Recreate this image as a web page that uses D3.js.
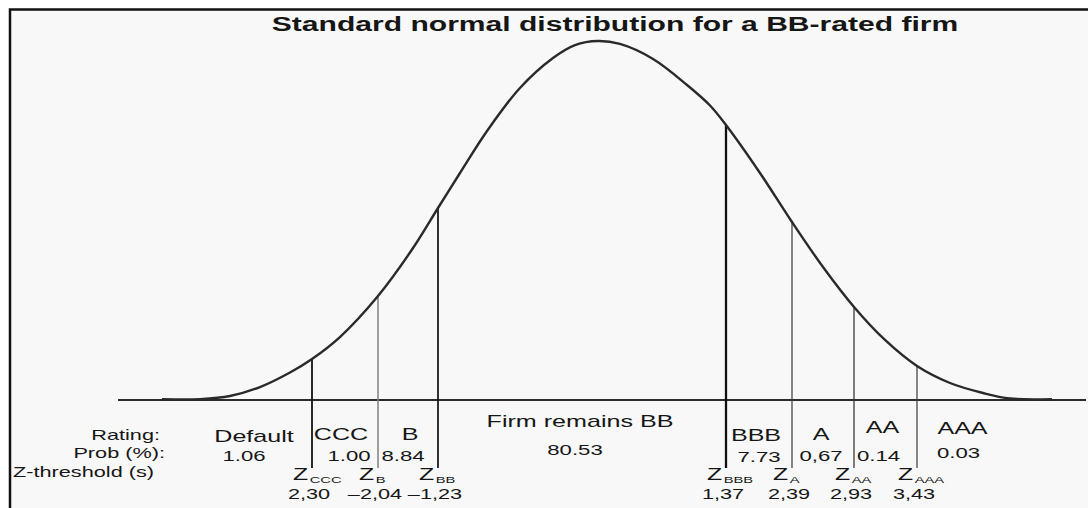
<!DOCTYPE html>
<html><head><meta charset="utf-8">
<script src="https://cdn.jsdelivr.net/npm/d3@7"></script>
<style>
body{margin:0;background:#fff}
text{font-family:"Liberation Sans",Arial,Helvetica,sans-serif;fill:#161616}
</style>
</head><body>
<svg id="chart" width="1088" height="508"></svg>
<script>
// ---------- data ----------
const title = "Standard normal distribution for a BB-rated firm";
const rowLabels = ["Rating:", "Prob (%):", "Z-threshold (s)"];
const ratings = ["Default", "CCC", "B", "Firm remains BB", "BBB", "A", "AA", "AAA"];
const probs = ["1.06", "1.00", "8.84", "80.53", "7.73", "0,67", "0.14", "0.03"];
const thresholdNames = ["CCC", "B", "BB", "BBB", "A", "AA", "AAA"];
const thresholdZ = [-2.30, -2.04, -1.23, 1.37, 2.39, 2.93, 3.43];
const thresholdLabels = ["2,30", "\u20132,04", "\u20131,23", "1,37", "2,39", "2,93", "3,43"];
// bell curve (z, density)
const curveZ = [-3.80, -3.42, -3.12, -2.82, -2.52, -2.30, -2.19, -2.04, -1.567, -1.23, -1.061, -0.853,
  -0.600, -0.346, -0.177, 0, 0.235, 0.589, 0.953, 1.199, 1.37, 1.895, 2.39, 2.660, 2.93, 3.176, 3.43,
  3.716, 4.002, 4.235, 4.6];
const curveDensity = [0.001, 0.001, 0.0044, 0.0144, 0.0306, 0.0456, 0.0700, 0.1156, 0.1689, 0.2134, 0.2523, 0.2990,
  0.3468, 0.3801, 0.3945, 0.399, 0.3957, 0.3790, 0.3501, 0.3273, 0.3056, 0.2523, 0.1978, 0.1478, 0.1034, 0.0667, 0.0378,
  0.0189, 0.0078, 0.0017, 0.001];

// ---------- layout ----------
const SX = 1.55; // horizontal stretch of the lettering in the original
const xAnchorsPx = [162, 312, 378, 438, 598, 726, 792, 854, 917, 1052]; // schematic (not-to-scale) axis
const baseY = 400, peakY = 41, lineBottom = 468;
const lineStyle = {
  CCC: {w: 1.8, c: "#151515"}, B: {w: 1.5, c: "#808080"}, BB: {w: 1.8, c: "#1a1a1a"},
  BBB: {w: 2.3, c: "#111"}, A: {w: 1.2, c: "#3a3a3a"}, AA: {w: 1.2, c: "#2a2a2a"}, AAA: {w: 1.2, c: "#3a3a3a"}
};
const ratingPos = { // dx from band centre, baseline y
  "Default": {dx: 0, y: 442}, "CCC": {dx: -4, y: 440}, "B": {dx: 2, y: 440},
  "Firm remains BB": {dx: -2, y: 427}, "BBB": {dx: -3, y: 441}, "A": {dx: -2, y: 440},
  "AA": {dx: -3, y: 433}, "AAA": {dx: 0, y: 434}
};
const probPos = {
  "1.06": {dx: -10, y: 461}, "1.00": {dx: 4, y: 461}, "8.84": {dx: -5, y: 461}, "80.53": {dx: -7, y: 455},
  "7.73": {dx: 0, y: 462}, "0,67": {dx: -2, y: 461}, "0.14": {dx: -7, y: 461}, "0.03": {dx: -4, y: 458}
};

const svg = d3.select("#chart");

const x = d3.scaleLinear()
  .domain([curveZ[0], ...thresholdZ.slice(0, 3), 0, ...thresholdZ.slice(3), curveZ[curveZ.length - 1]])
  .range(xAnchorsPx);
const y = d3.scaleLinear().domain([0, d3.max(curveDensity)]).range([baseY, peakY]);

// frame
svg.append("rect").attr("x", 10).attr("y", 9.5).attr("width", 1078).attr("height", 500).attr("fill", "#f8f8f8");
svg.append("path").attr("d", "M10,508V9.5H1088").attr("fill", "none").attr("stroke", "#111").attr("stroke-width", 2.5);

function stext(g, str, px, py, size, anchor, weight) {
  return g.append("text")
    .attr("transform", `translate(${px},${py}) scale(${SX},1)`)
    .attr("text-anchor", anchor || "middle")
    .attr("font-size", size)
    .attr("font-weight", weight || "normal")
    .text(str);
}

// title
stext(svg, title, 615, 31, 19.4, "middle", "bold");

// baseline
svg.append("line").attr("x1", x(curveZ[0]) - 44).attr("x2", 1086)
  .attr("y1", baseY).attr("y2", baseY).attr("stroke", "#2b2b2b").attr("stroke-width", 2);

// threshold lines
const lineData = thresholdZ.map((z, i) => ({name: thresholdNames[i], z, d: curveDensity[curveZ.indexOf(z)], lab: thresholdLabels[i]}));
svg.append("g").selectAll("line").data(lineData).join("line")
  .attr("x1", d => x(d.z)).attr("x2", d => x(d.z))
  .attr("y1", d => y(d.d)).attr("y2", lineBottom)
  .attr("stroke", d => lineStyle[d.name].c).attr("stroke-width", d => lineStyle[d.name].w);

// curve
const pts = curveZ.map((z, i) => [z, curveDensity[i]]);
svg.append("path").datum(pts)
  .attr("d", d3.line().x(d => x(d[0])).y(d => y(d[1])).curve(d3.curveCatmullRom.alpha(0.5)))
  .attr("fill", "none").attr("stroke", "#2a2a2a").attr("stroke-width", 2.4);

// row labels
const lab = svg.append("g");
stext(lab, rowLabels[0], 160, 440, 14, "end");
stext(lab, rowLabels[1], 165, 458, 14, "end");
stext(lab, rowLabels[2], 13, 477, 14, "start");

// band centres
const edges = thresholdZ.map(z => x(z));
const bandCentre = i => {
  if (i === 0) return edges[0] - 58;
  if (i === ratings.length - 1) return edges[edges.length - 1] + 45.5;
  return (edges[i - 1] + edges[i]) / 2;
};
ratings.forEach((r, i) => {
  stext(lab, r, bandCentre(i) + ratingPos[r].dx, ratingPos[r].y, 16.2, "middle");
});
probs.forEach((p, i) => {
  stext(lab, p, bandCentre(i) + probPos[p].dx, probPos[p].y, 14.3, "middle");
});

// Z thresholds
lineData.forEach(d => {
  const t = lab.append("text")
    .attr("transform", `translate(${x(d.z) - 19},480) scale(${SX},1)`)
    .attr("font-size", 16);
  t.append("tspan").text("Z");
  t.append("tspan").attr("font-size", 9.5).attr("dy", 3).attr("dx", 1).text(d.name);
  stext(lab, d.lab, x(d.z) - 3, 499, 14, "middle");
});
</script>
</body></html>
